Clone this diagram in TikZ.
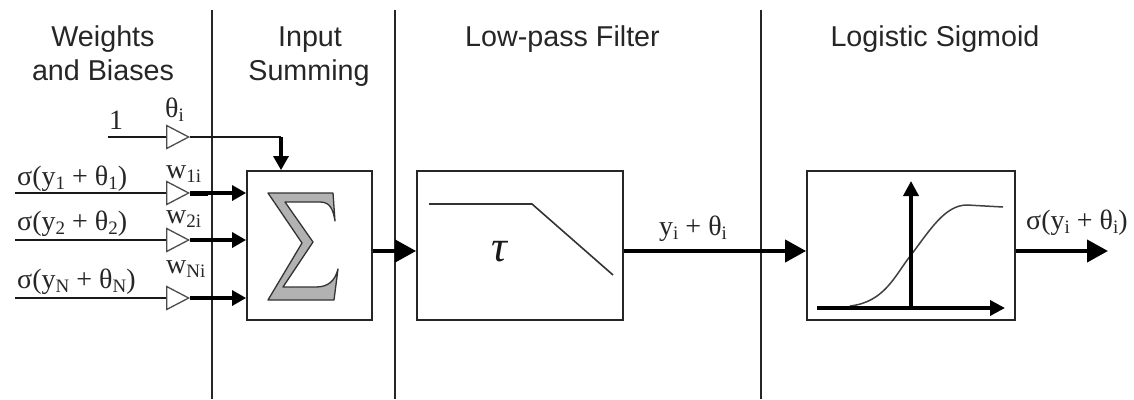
\documentclass[tikz,border=0pt]{standalone}
\usepackage{fontspec}
\setmainfont{Liberation Serif}
\newfontfamily\headfont{Liberation Sans}
\usetikzlibrary{shapes.geometric,arrows.meta}
\newcommand{\lowsub}[1]{\raisebox{-4.5pt}{\fontsize{19}{19}\selectfont #1}}
\tikzset{
  thinline/.style={line width=1.8pt,black!90},
  thickline/.style={line width=4pt,black,-{Triangle[length=21pt,width=22pt]}},
  midline/.style={line width=3.2pt,black,-{Triangle[length=14pt,width=15pt]}},
  divider/.style={line width=1.8pt,black!85},
  blockbox/.style={draw=black!85,line width=1.8pt,fill=white,inner sep=0pt},
  gain/.style={draw=black!70,line width=1.3pt,fill=white,isosceles triangle,isosceles triangle apex angle=55,isosceles triangle stretches,inner sep=0pt,minimum width=23pt,minimum height=22pt,anchor=west},
  heading/.style={font=\headfont\fontsize{28.7}{30}\selectfont,text=black!85,anchor=base,align=center},
  sigtext/.style={font=\fontsize{28}{30}\selectfont,text=black!85,anchor=base west,inner sep=0pt},
  gaintext/.style={font=\fontsize{28}{30}\selectfont,text=black!85,anchor=base west,inner sep=0pt},
}
\begin{document}
\begin{tikzpicture}[x=1pt,y=-1pt]
\useasboundingbox (0,0) rectangle (1134,399);
% dividers
\coordinate (d1t) at (212,10); \coordinate (d1b) at (212,399);
\coordinate (d2t) at (395,10); \coordinate (d2b) at (395,399);
\coordinate (d3t) at (761,10); \coordinate (d3b) at (761,399);
\draw[divider] (d1t) -- (d1b);
\draw[divider] (d2t) -- (d2b);
\draw[divider] (d3t) -- (d3b);
% headings
\node[heading] (h1a) at (103,46) {Weights};
\node[heading] (h1b) at (103,80) {and Biases};
\node[heading] (h2a) at (310,46) {Input};
\node[heading] (h2b) at (309,80) {Summing};
\node[heading] (h3) at (562.5,46) {Low-pass Filter};
\node[heading] (h4) at (935,46) {Logistic Sigmoid};
% blocks
\node[blockbox,minimum width=125pt,minimum height=149pt] (sum) at (309.5,245.5) {};
\node[blockbox,minimum width=206pt,minimum height=149pt] (lpf) at (520,245.5) {};
\node[blockbox,minimum width=208pt,minimum height=149pt] (sig) at (911,245.5) {};
% gains
\node[gain] (g0) at (166,137) {};
\node[gain] (g1) at (166,193) {};
\node[gain] (g2) at (166,240) {};
\node[gain] (g3) at (166,298) {};
% free ends
\coordinate (i0) at (108,137);
\coordinate (i1) at (15,193);
\coordinate (i2) at (15,240);
\coordinate (i3) at (15,298);
\coordinate (corner) at (281,137);
\coordinate (out) at (1108,251);
% input lines
\draw[thinline] (i0) -- (g0.west);
\draw[thinline] (i1) -- (g1.west);
\draw[thinline] (i2) -- (g2.west);
\draw[thinline] (i3) -- (g3.west);
\draw[thinline] (g0.east) -- (corner);
\draw[midline] (corner) -- (corner |- sum.north);
\draw[midline] (g1.east) -- (g1.east -| sum.west);
\draw[line width=5pt] (g1.east) -- ++(18,0);
\draw[midline] (g2.east) -- (g2.east -| sum.west);
\draw[midline] (g3.east) -- (g3.east -| sum.west);
% main path
\draw[thickline] (sum.east |- out) -- (lpf.west |- out);
\draw[thickline] (lpf.east |- out) -- (sig.west |- out);
\draw[thickline] (sig.east |- out) -- (out);
% labels
\node[gaintext] (n1) at (109,129) {1};
\node[gaintext] (t0) at (165,117) {θ\lowsub{i}};
\node[gaintext] (t1) at (166,178) {w\lowsub{1i}};
\node[gaintext] (t2) at (166,223) {w\lowsub{2i}};
\node[gaintext] (t3) at (166,273) {w\lowsub{Ni}};
\node[sigtext] (s1) at (17,185) {σ(y\lowsub{1} + θ\lowsub{1})};
\node[sigtext] (s2) at (17,230) {σ(y\lowsub{2} + θ\lowsub{2})};
\node[sigtext] (s3) at (17,288) {σ(y\lowsub{N} + θ\lowsub{N})};
\node[gaintext] (yth) at (659,235) {y\lowsub{i} + θ\lowsub{i}};
\node[gaintext] (so) at (1026,229) {σ(y\lowsub{i} + θ\lowsub{i})};
\node[font=\fontsize{44}{44}\selectfont\itshape,text=black!90,anchor=base,inner sep=0pt] (tau) at (499,261) {τ};
% sigma glyph
\draw[fill=black!30,draw=black!80,line width=1.3pt,line join=round]
  (268,193) -- (333,193) -- (335,221) .. controls (333,209) and (330,202) .. (320,202)
  -- (285,202) -- (313,242) -- (283,287) -- (316,287)
  .. controls (328,287) and (335,281) .. (338,269) -- (334,300) -- (268,300) -- (302,243) -- cycle;
% low-pass response
\coordinate (lp1) at (429,204); \coordinate (lp2) at (532,204); \coordinate (lp3) at (613,275);
\draw[line width=1.6pt,black!80] (lp1) -- (lp2) -- (lp3);
% sigmoid axes and curve
\coordinate (ax0) at (817,308); \coordinate (ax1) at (1005,308);
\coordinate (ay0) at (911,308); \coordinate (ay1) at (911,181);
\draw[line width=1.5pt,black!75] (850,306) .. controls (885,302) and (895,275) .. (911,255)
  .. controls (930,230) and (945,205) .. (967,205) -- (1003,207);
\draw[line width=3.6pt,-{Triangle[length=15pt,width=15pt]}] (ax0) -- (ax1);
\draw[line width=3.6pt,-{Triangle[length=15pt,width=15pt]}] (ay0) -- (ay1);
\end{tikzpicture}
\end{document}
